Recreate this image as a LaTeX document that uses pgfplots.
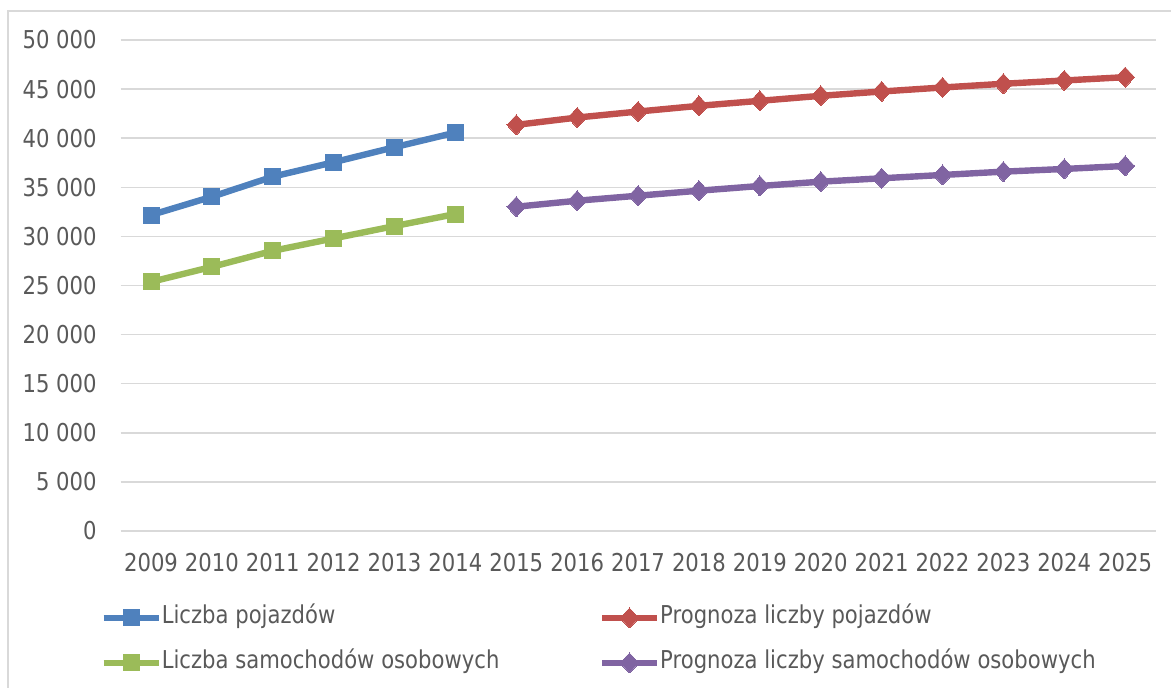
\documentclass[border=0pt]{standalone}
\usepackage{fontspec}
\setmainfont{DejaVu Sans}[FakeStretch=0.86]
\usepackage{pgfplots}
\pgfplotsset{compat=1.18}
\definecolor{txt}{HTML}{595959}
\definecolor{gridc}{HTML}{D9D9D9}
\definecolor{cblue}{HTML}{4F81BD}
\definecolor{cred}{HTML}{C0504D}
\definecolor{cgreen}{HTML}{9BBB59}
\definecolor{cpurple}{HTML}{8064A2}
\newcommand{\lf}{\fontsize{12.3pt}{14pt}\selectfont}
\begin{document}
\begin{tikzpicture}
\path[use as bounding box] (0pt,0pt) rectangle (585.5pt,344pt);
\draw[gridc, line width=0.75pt] (4pt,0pt) -- (4pt,338.5pt) -- (590pt,338.5pt);
\begin{axis}[
  at={(60.3pt,78.5pt)}, anchor=south west,
  scale only axis, width=517.5pt, height=245.5pt,
  xmin=2008.5, xmax=2025.5, ymin=0, ymax=50000,
  axis line style={draw=none},
  ymajorgrids, major grid style={gridc, line width=0.75pt},
  xtick={2009,...,2025},
  ytick={0,5000,...,50000},
  scaled y ticks=false,
  yticklabels={0,5 000,10 000,15 000,20 000,25 000,30 000,35 000,40 000,45 000,50 000},
  major tick length=0pt,
  /pgf/number format/assume math mode=true,
  /pgf/number format/1000 sep={},
  tick label style={font=\lf, text=txt},
  xticklabel style={anchor=north, inner sep=0pt, yshift=-11pt},
  yticklabel style={anchor=east, inner sep=0pt, xshift=-11.8pt},
  clip=false,
  legend columns=2,
  legend cell align=left,
  legend style={at={(axis description cs:0,0)}, anchor=north west,
    xshift=-10.3pt, yshift=-37.3pt, draw=none, fill=none, inner sep=0pt,
    column sep=0pt, row sep=10.5pt, font=\lf, text=txt,
    nodes={inner sep=0pt, text height=9pt, text depth=3pt}},
  legend image code/.code={\draw[#1, mark repeat=2, mark phase=2] plot coordinates {(0pt,0pt) (13.75pt,0pt) (27.5pt,0pt)};},
  every axis plot/.append style={line width=3.2pt},
]
\addplot[cblue, mark=square*, mark size=4pt, mark options={line width=0pt}] coordinates {
(2009,32173) (2010,34041) (2011,36082) (2012,37551) (2013,39082) (2014,40571)};
\addlegendentry{\makebox[218.5pt][l]{Liczba pojazdów}}
\addplot[cred, mark=diamond*, mark size=5pt, mark options={line width=0pt, xscale=1.25}] coordinates {
(2015,41357) (2016,42102) (2017,42714) (2018,43296) (2019,43806) (2020,44316) (2021,44755) (2022,45163) (2023,45541) (2024,45877) (2025,46214)};
\addlegendentry{Prognoza liczby pojazdów}
\addplot[cgreen, mark=square*, mark size=4pt, mark options={line width=0pt}] coordinates {
(2009,25367) (2010,26898) (2011,28531) (2012,29796) (2013,31051) (2014,32276)};
\addlegendentry{\makebox[218.5pt][l]{Liczba samochodów osobowych}}
\addplot[cpurple, mark=diamond*, mark size=5pt, mark options={line width=0pt, xscale=1.25}] coordinates {
(2015,33021) (2016,33633) (2017,34143) (2018,34653) (2019,35133) (2020,35571) (2021,35918) (2022,36255) (2023,36592) (2024,36867) (2025,37173)};
\addlegendentry{Prognoza liczby samochodów osobowych}
\end{axis}
\end{tikzpicture}
\end{document}
